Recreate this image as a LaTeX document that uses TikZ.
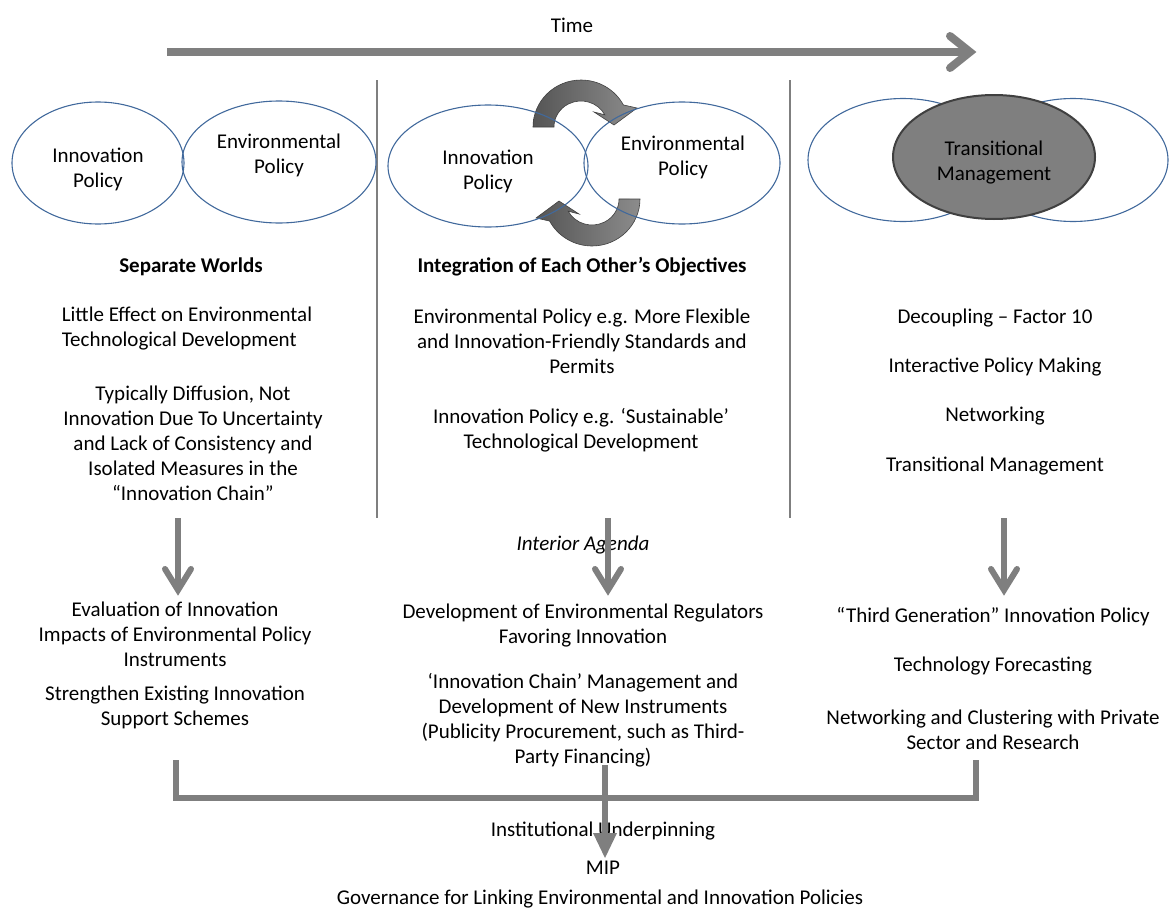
\documentclass[tikz,border=0pt]{standalone}
\usepackage{fontspec}
\setmainfont{Carlito}
\usetikzlibrary{shapes.geometric}

\definecolor{arrowgray}{HTML}{7F7F7F}
\definecolor{arrowdark}{HTML}{555555}
\definecolor{ringblue}{HTML}{41699C}
\definecolor{coredark}{HTML}{404040}

\begin{document}
\begin{tikzpicture}[x=1pt,y=1pt,
  txt/.style={align=center, font=\fontsize{21}{25}\selectfont, inner sep=0pt},
  txtb/.style={txt, font=\fontsize{21}{25}\selectfont\bfseries},
  txti/.style={txt, font=\fontsize{21}{25}\selectfont\itshape},
  ring/.style={ellipse, draw=ringblue, line width=1.1pt, inner sep=0pt},
  core/.style={ellipse, draw=coredark, line width=2pt, fill=arrowgray, inner sep=0pt},
  divider/.style={draw=arrowgray, line width=2pt},
  flow/.style={draw=arrowgray, line width=6pt},
  chevron/.style={draw=arrowgray, line width=6pt, line cap=round, line join=miter},
  cycarrow/.style={left color=arrowdark, right color=arrowgray!90, draw=coredark, line width=0.6pt}
]
\useasboundingbox (0,0) rectangle (1169,-910);

% ---------- time axis ----------
\node[txt] (time) at (572,-25) {Time};
\coordinate (t0) at (167,-52);
\coordinate (t1) at (968,-52);
\draw[draw=arrowgray, line width=8pt] (t0) -- (t1);
\draw[draw=arrowgray, line width=8pt, line cap=round, line join=miter]
  (950,-36) -- (970,-52) -- (950,-68);

% ---------- column dividers ----------
\coordinate (d1a) at (377,-80);  \coordinate (d1b) at (377,-518);
\coordinate (d2a) at (790,-80);  \coordinate (d2b) at (790,-518);
\draw[divider] (d1a) -- (d1b);
\draw[divider] (d2a) -- (d2b);

% ---------- cycle arrows between the middle ellipses ----------
\newcommand{\cyclepath}{%
  (533,-127) arc[start angle=180, end angle=28, x radius=48, y radius=47]
  -- (637,-108) -- (614,-125) -- (594,-112)
  -- (604.8,-114.8) arc[start angle=28, end angle=180, x radius=27, y radius=26] -- cycle}
\path[cycarrow] \cyclepath;
\begin{scope}[rotate around={180:(586.5,-163)}]
  \path[cycarrow] \cyclepath;
\end{scope}

% ---------- left panel: separate worlds ----------
\node[ring, minimum width=172, minimum height=122] (lInn) at (98,-163) {};
\node[ring, minimum width=194, minimum height=122] (lEnv) at (279,-162) {};
\node[txt] (lInnT) at (98,-169.5) {Innovation\\Policy};
\node[txt] (lEnvT) at (279,-155) {Environmental\\Policy};

% ---------- middle panel: integration ----------
\node[ring, minimum width=200, minimum height=122] (mInn) at (488,-166) {};
\node[ring, minimum width=196, minimum height=122] (mEnv) at (682,-163) {};
\node[txt] (mInnT) at (488,-171) {Innovation\\Policy};
\node[txt] (mEnvT) at (683,-157) {Environmental\\Policy};

% ---------- right panel: transition ----------
\node[ring, minimum width=190, minimum height=123] (rL) at (903,-160) {};
\node[ring, minimum width=190, minimum height=123] (rR) at (1073,-160) {};
\node[core, minimum width=202, minimum height=124] (rCore) at (994,-157) {};
\node[txt] (rCoreT) at (994,-163) {Transitional\\Management};

% ---------- column headings and descriptions ----------
\node[txtb] (h1) at (191,-267) {Separate Worlds};
\node[txt, align=left] (a1) at (187,-328.5) {Little Effect on Environmental\\Technological Development};
\node[txt] (a2) at (193,-443) {Typically Diffusion, Not\\Innovation Due To Uncertainty\\and Lack of Consistency and\\Isolated Measures in the\\“Innovation Chain”};

\node[txtb] (h2) at (582,-267) {Integration of Each Other’s Objectives};
\node[txt] (b1) at (582,-341) {Environmental Policy e.g. More Flexible\\and Innovation-Friendly Standards and\\Permits};
\node[txt] (b2) at (581,-430.5) {Innovation Policy e.g. ‘Sustainable’\\Technological Development};

\node[txt] (c1) at (995,-318) {Decoupling – Factor 10};
\node[txt] (c2) at (995,-367) {Interactive Policy Making};
\node[txt] (c3) at (995,-416) {Networking};
\node[txt] (c4) at (995,-466) {Transitional Management};

% ---------- measures ----------
\node[txti] (agenda) at (583,-545) {Interior Agenda};

\node[txt] (e1) at (175,-634) {Evaluation of Innovation\\Impacts of Environmental Policy\\Instruments};
\node[txt] (e2) at (175,-707.5) {Strengthen Existing Innovation\\Support Schemes};

\node[txt] (f1) at (583,-625.5) {Development of Environmental Regulators\\Favoring Innovation};
\node[txt] (f2) at (583,-720.5) {‘Innovation Chain’ Management and\\Development of New Instruments\\(Publicity Procurement, such as Third-\\Party Financing)};

\node[txt] (g1) at (993,-617) {“Third Generation” Innovation Policy};
\node[txt] (g2) at (993,-666) {Technology Forecasting};
\node[txt] (g3) at (993,-729.5) {Networking and Clustering with Private\\Sector and Research};

% ---------- outcome ----------
\node[txt] (o1) at (603,-831) {Institutional Underpinning};
\node[txt] (o2) at (603,-868) {MIP};
\node[txt] (o3) at (600,-899) {Governance for Linking Environmental and Innovation Policies};

% ---------- downward arrows ----------
\foreach \x/\n in {178/L, 608/M, 1004/R} {
  \coordinate (top\n) at (\x,-518);
  \coordinate (tip\n) at (\x,-590);
  \draw[flow] (top\n) -- (tip\n);
  \draw[chevron] (\x-13,-569) -- (tip\n) -- (\x+13,-569);
}

% ---------- bracket joining the three columns ----------
\coordinate (bL) at (176,-760);
\coordinate (bR) at (976,-760);
\draw[flow, line join=miter] (bL) -- (176,-798) -- (976,-798) -- (bR);
\coordinate (sTop) at (605,-765);
\coordinate (sEnd) at (605,-834);
\draw[flow] (sTop) -- (sEnd);
\fill[arrowgray] (593,-833) -- (617,-833) -- (605,-858) -- cycle;

\end{tikzpicture}
\end{document}
